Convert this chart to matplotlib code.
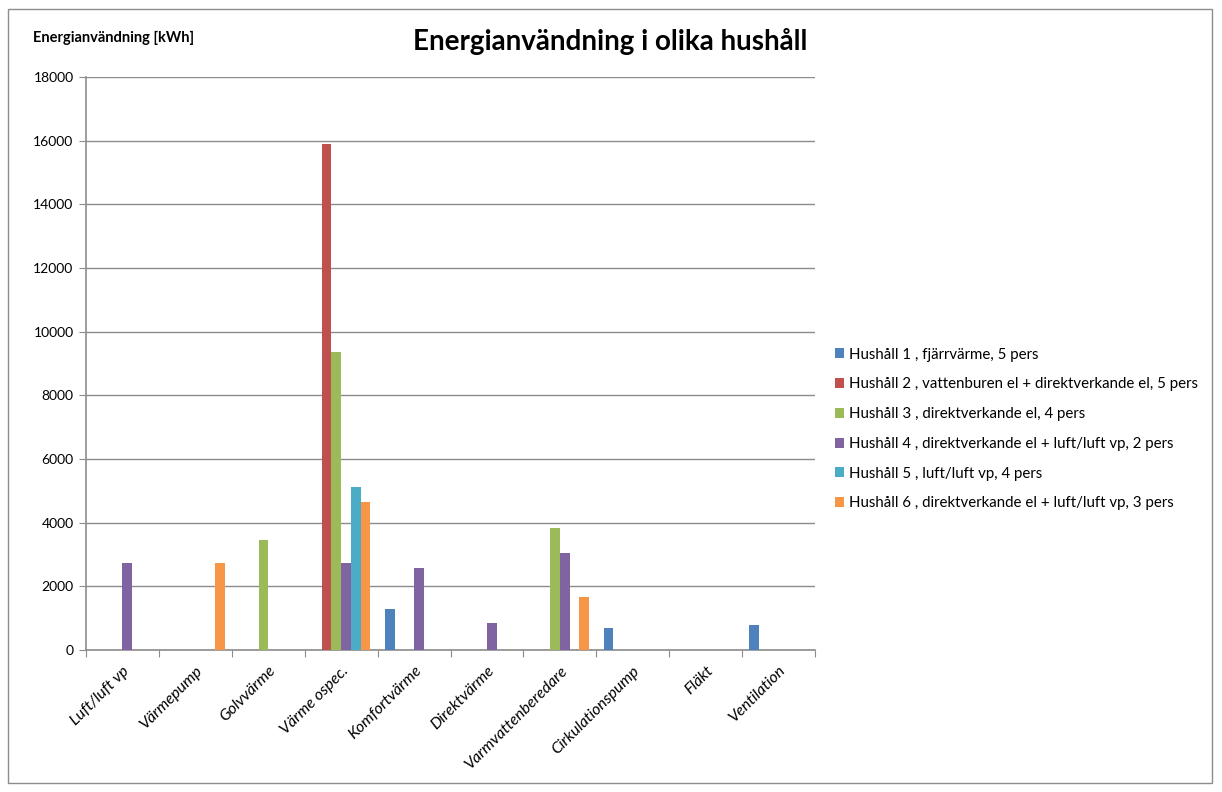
import numpy as np
import matplotlib
matplotlib.use("Agg")
import matplotlib.pyplot as plt
from matplotlib.patches import Rectangle

plt.rcParams["font.family"] = ["Lato", "DejaVu Sans"]

categories = ["Luft/luft vp", "Värmepump", "Golvvärme", "Värme ospec.", "Komfortvärme",
              "Direktvärme", "Varmvattenberedare", "Cirkulationspump", "Fläkt", "Ventilation"]

series_names = [
    "Hushåll 1 , fjärrvärme, 5 pers",
    "Hushåll 2 , vattenburen el + direktverkande el, 5 pers",
    "Hushåll 3 , direktverkande el, 4 pers",
    "Hushåll 4 , direktverkande el + luft/luft vp, 2 pers",
    "Hushåll 5 , luft/luft vp, 4 pers",
    "Hushåll 6 , direktverkande el + luft/luft vp, 3 pers",
]

hushall_1 = [0, 0, 0, 0, 1300, 0, 0, 690, 0, 790]
hushall_2 = [0, 0, 0, 15880, 0, 0, 0, 0, 0, 0]
hushall_3 = [0, 0, 3450, 9350, 0, 0, 3840, 0, 0, 0]
hushall_4 = [2720, 0, 0, 2720, 2560, 860, 3050, 0, 0, 0]
hushall_5 = [0, 0, 0, 5110, 0, 0, 0, 0, 0, 0]
hushall_6 = [0, 2720, 0, 4650, 0, 0, 1660, 0, 0, 0]

colors = ["#4F81BD", "#C0504D", "#9BBB59", "#8064A2", "#4BACC6", "#F79646"]

all_series = [hushall_1, hushall_2, hushall_3, hushall_4, hushall_5, hushall_6]

fig = plt.figure(figsize=(12.22, 7.92), dpi=100)
ax = fig.add_axes([0.0704, 0.1793, 0.5966, 0.7235])

x = np.arange(len(categories))
n = len(all_series)
w = 0.8 / n
for i, (vals, name, col) in enumerate(zip(all_series, series_names, colors)):
    ax.bar(x - 0.4 + w * (i + 0.5), vals, width=w, color=col, label=name,
           edgecolor="none", zorder=3)

ax.set_xlim(-0.5, len(categories) - 0.5)
ax.set_ylim(0, 18000)
ax.set_yticks(np.arange(0, 18001, 2000))
ax.yaxis.grid(True, color="#8c8c8c", linewidth=1.0, zorder=0)
ax.tick_params(axis="y", labelsize=10, length=5, color="#8c8c8c", pad=4)

# category boundaries get the tick marks, centres get the labels
ax.set_xticks(np.arange(-0.5, len(categories)), labels=[])
ax.set_xticks(x, minor=True)
ax.set_xticklabels(categories, minor=True, rotation=45, ha="right", va="top",
                   rotation_mode="anchor", fontsize=11.5, style="italic")
ax.tick_params(axis="x", which="major", length=5, color="#8c8c8c")
ax.tick_params(axis="x", which="minor", length=0, pad=10)

for side in ["top", "right"]:
    ax.spines[side].set_visible(False)
for side in ["left", "bottom"]:
    ax.spines[side].set_color("#8c8c8c")
    ax.spines[side].set_linewidth(1.2)

fig.text(0.499, 0.947, "Energianvändning i olika hushåll", ha="center", va="center",
         fontsize=20, fontweight="bold")
fig.text(0.027, 0.952, "Energianvändning [kWh]", ha="left", va="center",
         fontsize=10.5, fontweight="bold")

leg = fig.legend(loc="upper left", bbox_to_anchor=(0.672, 0.578), frameon=False,
                 fontsize=10.8, handlelength=0.65, handleheight=0.65, handletextpad=0.3,
                 labelspacing=1.05)

fig.patches.append(Rectangle((0.0065, 0.011), 0.9855, 0.978, transform=fig.transFigure,
                             fill=False, edgecolor="#8c8c8c", linewidth=1.0))

fig.savefig("out.png", dpi=100, facecolor="white")
